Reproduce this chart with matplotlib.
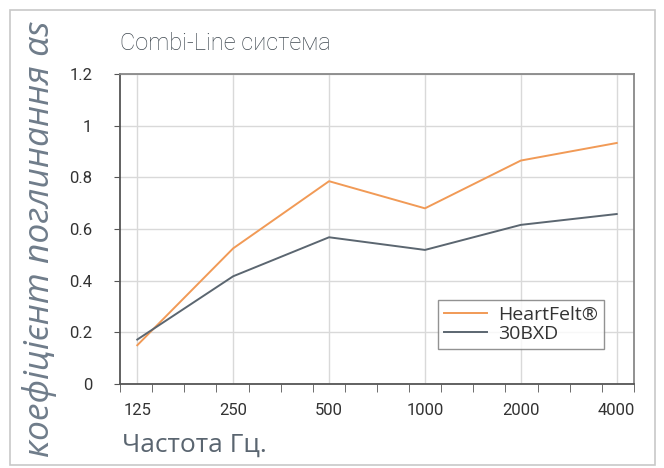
import numpy as np
import matplotlib.pyplot as plt
from matplotlib.patches import Rectangle

# Data
freqs = ['125', '250', '500', '1000', '2000', '4000']
heartfelt = [0.15, 0.525, 0.785, 0.68, 0.865, 0.933]
bxd30 = [0.172, 0.417, 0.568, 0.519, 0.616, 0.658]
yticks = [0, 0.2, 0.4, 0.6, 0.8, 1.0, 1.2]
ytick_labels = ['0', '0.2', '0.4', '0.6', '0.8', '1', '1.2']

narrow = ['Roboto', 'DejaVu Sans']
sans = ['Open Sans', 'DejaVu Sans']

fig = plt.figure(figsize=(6.64, 4.68), dpi=100)
ax = fig.add_axes([120/664, 1 - 384/468, 514/664, 310/468])

# outer frame
fig.patches.append(Rectangle((10/664, 3/468), 645/664, 455/468, transform=fig.transFigure,
                             fill=False, edgecolor='#c8c8c8', lw=1.2))

x = np.arange(len(freqs))
ax.plot(x, heartfelt, color='#f19a56', lw=1.4, label='HeartFelt®')
ax.plot(x, bxd30, color='#5b6670', lw=1.4, label='30BXD')

ax.set_xlim(-0.18, 5.18)
ax.set_ylim(0, 1.2)
ax.set_yticks(yticks)
ax.set_yticklabels(ytick_labels, fontfamily=narrow, fontsize=12, color='#333333')
ax.set_xticks(x)
ax.set_xticklabels(freqs, fontfamily=narrow, fontsize=12, color='#333333')
ax.tick_params(axis='x', length=0, pad=14)
ax.tick_params(axis='y', length=4, color='#555555', pad=16)

# minor ticks along the bottom
edges = np.linspace(-0.18, 5.18, 17)
ax.set_xticks(edges, minor=True)
ax.tick_params(axis='x', which='minor', length=6, color='#555555', direction='out')

for xi in x:
    ax.axvline(xi, color='#d9d9d9', lw=1, zorder=0)
for yv in yticks:
    ax.axhline(yv, color='#d9d9d9', lw=1, zorder=0)

for s in ['left', 'bottom']:
    ax.spines[s].set_color('#555555')
    ax.spines[s].set_linewidth(1.3)
for s in ['top', 'right']:
    ax.spines[s].set_color('#888888')
    ax.spines[s].set_linewidth(1.3)

leg = ax.legend(loc='lower right', bbox_to_anchor=(0.942, 0.113), borderaxespad=0,
                prop={'family': sans, 'size': 14},
                frameon=True, fancybox=False, handlelength=2.2, borderpad=0.3,
                labelspacing=0.05, handletextpad=0.6)
leg.get_frame().set_edgecolor('#777777')
leg.get_frame().set_linewidth(1)
for t in leg.get_texts():
    t.set_color('#333333')

fig.text(120/664, 1 - 44/468, 'Combi-Line система', fontfamily=narrow, fontweight='light',
         fontsize=17, color='#3f4850', va='center', ha='left')
fig.text(122/664, 1 - 445/468, 'Частота Гц.', fontfamily=sans, fontsize=19, color='#5a6570',
         va='center', ha='left')
fig.text(40/664, 1 - 239/468, 'коефіцієнт поглинання αs', fontfamily=sans, fontsize=25.5,
         style='italic', color='#6f7c8a', rotation=90, va='center', ha='center')

fig.savefig('out.png', dpi=100)
